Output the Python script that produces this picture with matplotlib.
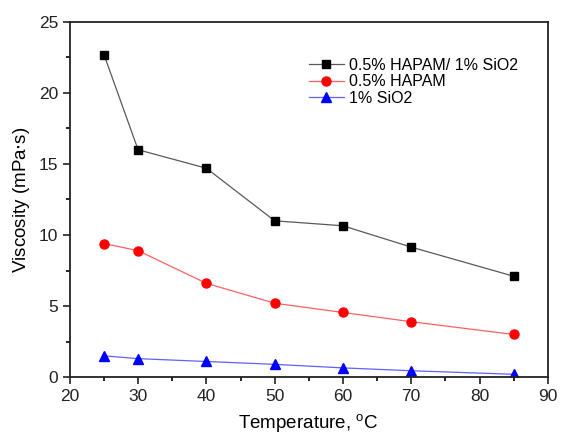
import numpy as np
import matplotlib
matplotlib.use("Agg")
from matplotlib import pyplot as plt
from matplotlib.ticker import MultipleLocator

plt.rcParams['font.family'] = ['Liberation Sans', 'DejaVu Sans']

temperature = [25, 30, 40, 50, 60, 70, 85]
hapam_sio2 = [22.7, 16.0, 14.7, 11.0, 10.65, 9.15, 7.1]
hapam = [9.4, 8.9, 6.6, 5.2, 4.55, 3.9, 3.0]
sio2 = [1.5, 1.3, 1.1, 0.9, 0.65, 0.45, 0.2]

fig = plt.figure(figsize=(5.63, 4.37), dpi=100)
ax = fig.add_axes([0.124, 0.137, 0.849, 0.813])

ax.plot(temperature, hapam_sio2, color='0.35', lw=0.9, marker='s', ms=6,
        mfc='black', mec='black', label='0.5% HAPAM/ 1% SiO2')
ax.plot(temperature, hapam, color='#ff6060', lw=0.9, marker='o', ms=6.5,
        mfc='red', mec='red', label='0.5% HAPAM')
ax.plot(temperature, sio2, color='#6060ff', lw=0.9, marker='^', ms=7,
        mfc='blue', mec='blue', label='1% SiO2')

ax.set_xlim(20, 90)
ax.set_ylim(0, 25)
ax.xaxis.set_major_locator(MultipleLocator(10))
ax.xaxis.set_minor_locator(MultipleLocator(5))
ax.yaxis.set_major_locator(MultipleLocator(5))
ax.yaxis.set_minor_locator(MultipleLocator(2.5))
ax.tick_params(which='major', direction='out', length=5, width=1.2, labelsize=12.5, colors='#222222')
ax.tick_params(which='minor', direction='out', length=3, width=1.2)
for s in ax.spines.values():
    s.set_linewidth(1.3)
    s.set_color('#222222')

ax.set_xlabel('Temperature, $^{\\mathregular{o}}$C', fontsize=13.5, labelpad=6)
ax.set_ylabel('Viscosity (mPa$\\cdot$s)', fontsize=13.5, labelpad=5)

ax.legend(loc='upper left', bbox_to_anchor=(0.47, 0.94), frameon=False, fontsize=11.5,
          handlelength=2.2, handletextpad=0.3, labelspacing=0.1)

fig.savefig('out.png', dpi=100)
